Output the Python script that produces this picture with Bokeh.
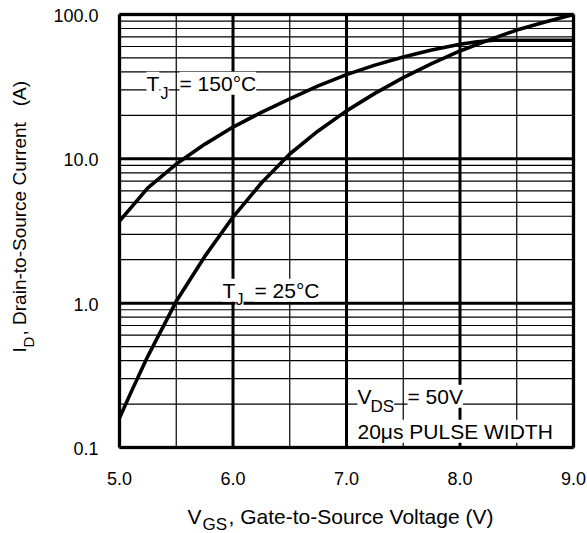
import math
from bokeh.plotting import figure
from bokeh.models import Range1d, Label, BoxAnnotation, ColumnDataSource
from bokeh.core.properties import value
from bokeh.embed import file_html
from bokeh.resources import INLINE

# ---------------- data ----------------
vgs_150 = [5.0, 5.25, 5.5, 5.75, 6.0, 6.25, 6.5, 6.75, 7.0, 7.25, 7.5, 7.75, 8.0, 8.15, 8.3, 9.0]
id_150 = [3.7, 6.3, 9.2, 12.6, 16.6, 21.0, 26.0, 32.0, 38.3, 44.6, 50.8, 56.8, 62.3, 64.8, 66.3, 66.3]

vgs_25 = [5.0, 5.1, 5.25, 5.5, 5.75, 6.0, 6.25, 6.5, 6.75, 7.0, 7.25, 7.5, 7.75, 8.0, 8.25, 8.5, 8.75, 9.0]
id_25 = [0.16, 0.24, 0.43, 1.03, 2.1, 3.95, 6.8, 10.8, 15.6, 21.5, 28.4, 36.5, 45.6, 55.9, 66.5, 78.0, 88.7, 100.0]

x_ticks = [5.0, 6.0, 7.0, 8.0, 9.0]
x_tick_labels = ["5.0", "6.0", "7.0", "8.0", "9.0"]
x_minor = [5.5, 6.5, 7.5, 8.5]
y_ticks = [0.1, 1.0, 10.0, 100.0]
y_tick_labels = ["0.1", "1.0", "10.0", "100.0"]
y_minor = [0.2, 0.3, 0.4, 0.5, 0.6, 0.7, 0.8, 0.9,
           2, 3, 4, 5, 6, 7, 8, 9,
           20, 30, 40, 50, 60, 70, 80, 90]

FONT = "Liberation Sans"
NB = "\u00a0"

# ---------------- layout (canvas pixels) ----------------
W, H = 587, 533
FX0, FX1 = 119.0, 573.0   # plot box left/right in canvas px
FY0, FY1 = 14.0, 447.0    # plot box top/bottom in canvas px
XMIN, XMAX = x_ticks[0], x_ticks[-1]
YMIN, YMAX = y_ticks[0], y_ticks[-1]
MID = 0.35                # baseline -> em-middle offset (fraction of font size)


def px2x(px):
    return XMIN + (px - FX0) / (FX1 - FX0) * (XMAX - XMIN)


def py2y(py):
    lo, hi = math.log10(YMIN), math.log10(YMAX)
    return 10 ** (hi - (py - FY0) / (FY1 - FY0) * (hi - lo))


p = figure(width=W, height=H,
           x_range=Range1d(px2x(0), px2x(W)), y_range=Range1d(py2y(H), py2y(0)),
           y_axis_type="log",
           output_backend="svg", toolbar_location=None,
           min_border=0, min_border_left=0, min_border_right=0,
           min_border_top=0, min_border_bottom=0)
p.xaxis.visible = False
p.yaxis.visible = False
p.grid.visible = False
p.background_fill_color = "white"
p.border_fill_color = "white"
p.outline_line_color = None

# ---------------- grid lines (from tick lists) ----------------
p.segment(x0=x_minor, y0=[YMIN] * len(x_minor), x1=x_minor, y1=[YMAX] * len(x_minor),
          line_color="black", line_width=1.2)
p.segment(x0=[XMIN] * len(y_minor), y0=y_minor, x1=[XMAX] * len(y_minor), y1=y_minor,
          line_color="black", line_width=1.2)
p.segment(x0=x_ticks, y0=[YMIN] * len(x_ticks), x1=x_ticks, y1=[YMAX] * len(x_ticks),
          line_color="black", line_width=3)
p.segment(x0=[XMIN] * len(y_ticks), y0=y_ticks, x1=[XMAX] * len(y_ticks), y1=y_ticks,
          line_color="black", line_width=3)

# ---------------- curves ----------------
p.line(vgs_150, id_150, line_color="black", line_width=3.6, line_join="round")
p.line(vgs_25, id_25, line_color="black", line_width=3.6, line_join="round")

# plot box border
p.add_layout(BoxAnnotation(left=XMIN, right=XMAX, bottom=YMIN, top=YMAX,
                           fill_alpha=0, fill_color=None,
                           line_color="black", line_width=4))

# ---------------- tick labels ----------------
xsrc = ColumnDataSource(dict(x=x_ticks, y=[YMIN] * len(x_ticks), t=x_tick_labels))
p.text(x="x", y="y", text="t", source=xsrc, text_font=value(FONT),
       text_font_size=value("18px"), text_color="black",
       text_align="center", text_baseline="middle", y_offset=31)
ysrc = ColumnDataSource(dict(x=[XMIN] * len(y_ticks), y=y_ticks, t=y_tick_labels))
p.text(x="x", y="y", text="t", source=ysrc, text_font=value(FONT),
       text_font_size=value("18px"), text_color="black",
       text_align="right", text_baseline="middle", x_offset=-21, y_offset=1)


def lab(text, px, py, size=21, bg=True, angle=0):
    # (px, py) is the start of the text baseline in canvas pixels
    if angle:
        cx, cy = px - MID * size, py
    else:
        cx, cy = px, py - MID * size
    l = Label(x=px2x(cx), y=py2y(cy), text=text,
              text_font=FONT, text_font_size=f"{size}px", text_color="black",
              text_align="left", text_baseline="middle",
              angle=angle, angle_units="deg")
    if bg:
        l.background_fill_color = "white"
        l.background_fill_alpha = 1.0
    p.add_layout(l)


# ---------------- annotations ----------------
lab("T", 146, 90)
lab("J", 160, 99, size=16)
lab("= 150°C", 179, 90)

lab("T", 222, 297)
lab("J", 235, 305, size=16)
lab("= 25°C", 254, 297)

lab("V", 357, 403)
lab("DS", 370, 412, size=17)
lab("= 50V", 407, 403)
lab("20μs PULSE WIDTH", 357, 438)

# ---------------- axis titles ----------------
lab("V", 187, 523, size=21, bg=False)
lab("GS", 202, 530, size=17, bg=False)
lab(", Gate-to-Source Voltage (V)", 228, 523, size=21, bg=False)

lab("I", 26, 352, size=19, bg=False, angle=90)
lab("D", 33, 347, size=15, bg=False, angle=90)
lab(", Drain-to-Source Current" + NB * 3 + "(A)", 26, 335, size=19, bg=False, angle=90)

open("out.html", "w").write(file_html(p, INLINE))
